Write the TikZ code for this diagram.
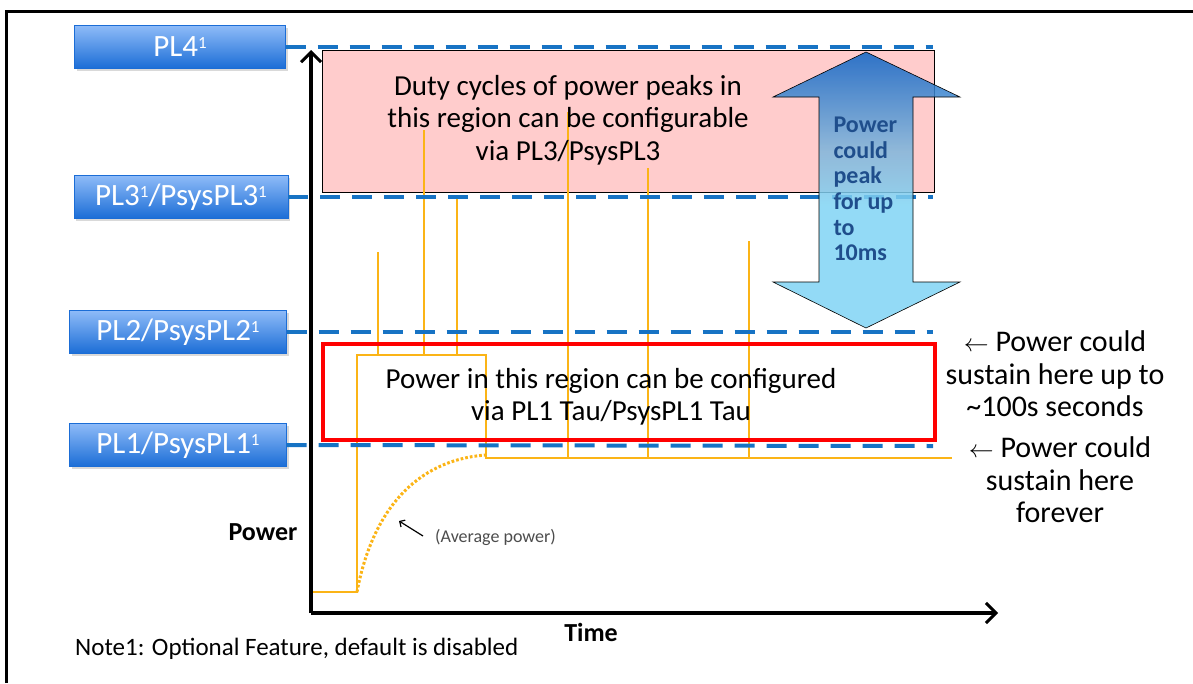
\documentclass[tikz,border=0pt]{standalone}
\usepackage{fontspec}
\setmainfont{Carlito}
\usetikzlibrary{arrows.meta,shadows,positioning}
\definecolor{livblu}{HTML}{1773C4}
\definecolor{etisu}{HTML}{8EBBF8}
\definecolor{etigiu}{HTML}{1B6DD6}
\definecolor{rosa}{HTML}{FFCCCC}
\definecolor{segnale}{HTML}{FBB416}
\definecolor{bluscuro}{HTML}{1F4E8C}
\definecolor{frecsu}{HTML}{0B63C6}
\definecolor{frecmez}{HTML}{7EB6DC}
\definecolor{frecgiu}{HTML}{80D4F4}
\pgfdeclareverticalshading{freccia}{100bp}{color(0bp)=(frecgiu); color(47bp)=(frecgiu);
	color(57bp)=(frecmez); color(75bp)=(frecsu); color(100bp)=(frecsu)}
\newcommand{\apice}{\raisebox{8pt}{\fontsize{17}{17}\selectfont 1}}
\begin{document}
\begin{tikzpicture}[x=1pt,y=-1pt]
			\tikzset{etichetta/.style={draw=etigiu, top color=etisu, bottom color=etigiu, text=white,
					minimum height=43pt, inner sep=0pt, font=\fontsize{31}{33}\selectfont,
					drop shadow={shadow xshift=2pt, shadow yshift=-2pt, opacity=0.3}},
				livello/.style={livblu, line width=4pt, dash pattern=on 20pt off 12pt},
				impulso/.style={segnale, line width=2.7pt},
				testo/.style={align=center, font=\fontsize{29}{32.5}\selectfont},
				asse/.style={line width=3.5pt, -{Straight Barb[length=10pt, width=20pt, line width=3pt]}}}
			\useasboundingbox (0,0) rectangle (1193,683);
			
			% Cornice
			\draw[line width=3pt] (6,683) -- (6,11) -- (1193,11);
			
			% Etichette dei livelli
			\node[etichetta, minimum width=211pt] (pl4) at (180,47) {PL4\apice};
			\node[etichetta, minimum width=214pt] (pl3) at (181,197) {PL3\apice/PsysPL3\apice};
			\node[etichetta, minimum width=217pt] (pl2) at (178,332) {PL2/PsysPL2\apice};
			\node[etichetta, minimum width=217pt] (pl1) at (178,445) {PL1/PsysPL1\apice};
			
			\coordinate (f4) at (933,47);
			\coordinate (f3) at (933,197);
			\coordinate (f2) at (933,332);
			\coordinate (f1) at (933,446);
			
			% Regione PL3
			\node[draw, fill=rosa, line width=0.8pt, minimum width=612pt, minimum height=142pt,
				anchor=north west] (picchi) at (322,50) {};
			
			% Segnale di potenza
			\draw[impulso] (313,592) -- (357,592) -- (357,355) -- (486,355) -- (486,458) -- (952,458);
			\draw[impulso] (378,355) -- (378,252);
			\draw[impulso] (424,355) -- (424,130);
			\draw[impulso] (457,355) -- (457,197);
			\draw[impulso] (568,458) -- (568,112);
			\draw[impulso] (648,458) -- (648,168);
			\draw[impulso] (749,458) -- (749,241);
			\draw[impulso, dotted, line width=3pt] (357,592) .. controls (372,512) and (415,460) .. (486,455);
			
			\draw[livello] (pl4.east) -- (f4);
			\draw[livello] (pl3.east) -- (f3);
			\draw[livello] (pl2.east) -- (f2);
			\draw[livello] (pl1.east) -- (f1);
			
			% Freccia doppia
			\shadedraw[draw=black, line width=0.6pt, shading=freccia, fill opacity=0.85]
				(866,52) -- (960,97) -- (913,97) -- (913,282) -- (960,282) -- (866,328)
				-- (773,282) -- (819,282) -- (819,97) -- (773,97) -- cycle;
			
			% Regione PL1 Tau
			\node[draw=red, line width=4pt, minimum width=612pt, minimum height=96pt,
				anchor=north west] (tau) at (321,342) {};
			
			% Assi
			\coordinate (O) at (311,613);
			\coordinate (Y) at (311,50);
			\coordinate (X) at (998,613);
			\draw[asse] (O) -- (Y);
			\draw[asse] (O) -- (X);
			
			% Testi
			\node[testo] (duty) at (568,120) {Duty cycles of power peaks in\\this region can be configurable\\via PL3/PsysPL3};
			\node[align=left, anchor=west, text=bluscuro, font=\bfseries\fontsize{24}{25.6}\selectfont] (dieci) at (830,189)
				{Power\\could\\peak\\for up\\to\\10ms};
			\node[testo] (cfg) at (611,397) {Power in this region can be configured\\via PL1 Tau/PsysPL1 Tau};
			\node[testo, font=\fontsize{30}{32.5}\selectfont] (sost) at (1055,374) {$\leftarrow$ Power could\\sustain here up to\\\textasciitilde100s seconds};
			\node[testo, font=\fontsize{30}{32.5}\selectfont] (sempre) at (1060,480) {$\leftarrow$ Power could\\sustain here\\forever};
			\node[font=\bfseries\fontsize{26}{28}\selectfont] (ylab) at (263,532) {Power};
			\node[font=\bfseries\fontsize{26}{28}\selectfont] (xlab) at (591,632) {Time};
			\node[anchor=west, inner sep=0pt, font=\fontsize{18}{20}\selectfont, text=black!70] (media) at (435,537) {(Average power)};
			\coordinate (mc) at (423,536);
			\coordinate (m) at (399,521);
			\draw[line width=1.2pt, -{Straight Barb[length=4pt, width=8pt]}] (mc) -- (m);
			\node[anchor=west, inner sep=0pt, font=\fontsize{25}{27}\selectfont] (nota) at (75,649) {Note1: Optional Feature, default is disabled};
		\end{tikzpicture}
\end{document}
